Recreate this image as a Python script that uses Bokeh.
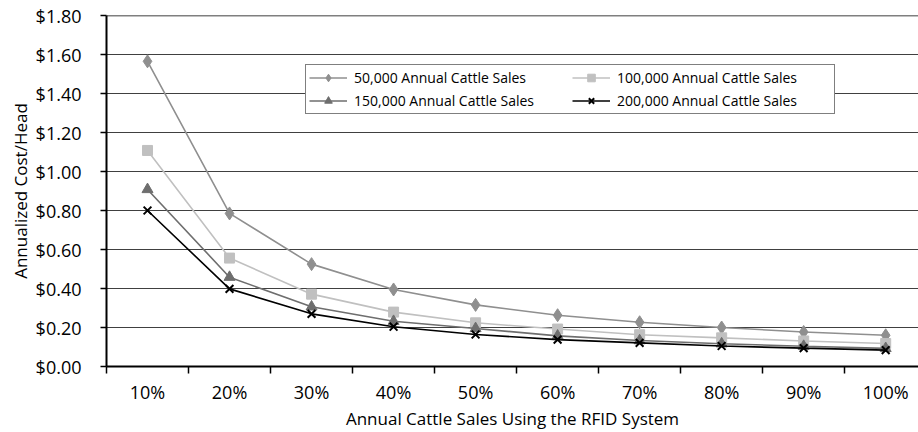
from bokeh.plotting import figure
from bokeh.models import Range1d, FixedTicker, Legend, LegendItem, Span
from bokeh.embed import file_html
from bokeh.resources import INLINE

categories = ["10%", "20%", "30%", "40%", "50%", "60%", "70%", "80%", "90%", "100%"]
sales_50k = [1.565, 0.785, 0.525, 0.395, 0.316, 0.263, 0.227, 0.200, 0.177, 0.160]
sales_100k = [1.108, 0.556, 0.371, 0.279, 0.224, 0.192, 0.163, 0.147, 0.131, 0.118]
sales_150k = [0.908, 0.458, 0.306, 0.232, 0.195, 0.157, 0.133, 0.117, 0.104, 0.093]
sales_200k = [0.800, 0.398, 0.270, 0.204, 0.164, 0.138, 0.121, 0.105, 0.094, 0.084]
y_ticks = [0.0, 0.2, 0.4, 0.6, 0.8, 1.0, 1.2, 1.4, 1.6, 1.8]
series_names = ["50,000 Annual Cattle Sales", "100,000 Annual Cattle Sales",
                "150,000 Annual Cattle Sales", "200,000 Annual Cattle Sales"]

FONT = "Open Sans"
xs = [i + 0.5 for i in range(len(categories))]

p = figure(width=918, height=432, output_backend="svg", toolbar_location=None,
           x_range=Range1d(0, 9.9), y_range=Range1d(0, 1.8),
           min_border_left=106, min_border_right=0, min_border_top=15, min_border_bottom=65)
p.outline_line_color = None
p.background_fill_color = "white"

p.xgrid.grid_line_color = None
p.ygrid.grid_line_color = "#404040"
p.ygrid.grid_line_width = 1

# x axis: labels at category centres, ticks at category boundaries
p.xaxis.ticker = FixedTicker(ticks=xs, minor_ticks=list(range(0, 11)))
p.xaxis.major_label_overrides = {x: c for x, c in zip(xs, categories)}
p.xaxis.major_tick_line_color = None
p.xaxis.major_tick_out = 7
p.xaxis.major_tick_in = 0
p.xaxis.minor_tick_line_color = "black"
p.xaxis.minor_tick_out = 7
p.xaxis.minor_tick_in = 0
p.xaxis.minor_tick_line_width = 1.5
p.xaxis.axis_line_width = 2
p.xaxis.axis_line_color = "black"
p.xaxis.major_label_standoff = 6
p.xaxis.axis_label = "Annual Cattle Sales Using the RFID System"
p.xaxis.axis_label_standoff = 0

p.yaxis.ticker = FixedTicker(ticks=y_ticks)
p.yaxis.major_label_overrides = {t: "${:.2f}".format(t) for t in y_ticks}
p.yaxis.major_tick_out = 6
p.yaxis.major_tick_in = 0
p.yaxis.major_tick_line_width = 1.5
p.yaxis.minor_tick_line_color = None
p.yaxis.axis_line_width = 2
p.yaxis.axis_line_color = "black"
p.yaxis.major_label_standoff = 19
p.yaxis.axis_label = "Annualized Cost/Head"
p.yaxis.axis_label_standoff = 1

for ax in (p.xaxis, p.yaxis):
    ax.major_label_text_font = FONT
    ax.major_label_text_font_size = "18px"
    ax.major_label_text_color = "black"
    ax.axis_label_text_font = FONT
    ax.axis_label_text_font_size = "17px"
    ax.axis_label_text_font_style = "normal"
    ax.axis_label_text_color = "black"

top = Span(location=1.8, dimension="width", line_color="black", line_width=1.5)
p.add_layout(top)

items = []
specs = [
    (sales_50k, "#8f8f8f", "diamond", 13),
    (sales_100k, "#c0c0c0", "square", 10),
    (sales_150k, "#6e6e6e", "triangle", 11),
    (sales_200k, "black", "x", 11),
]
for name, (vals, col, marker, size) in zip(series_names, specs):
    ln = p.line(xs, vals, line_color=col, line_width=1.6)
    sc = p.scatter(xs, vals, marker=marker, size=size, fill_color=col, line_color=col,
                   line_width=2 if marker == "x" else 1)
    items.append(LegendItem(label=name, renderers=[ln, sc]))

legend = Legend(items=items, orientation="horizontal", ncols=2,
                location=(199, 252))
legend.label_text_font = FONT
legend.label_text_font_size = "14px"
legend.label_text_color = "black"
legend.border_line_color = "black"
legend.border_line_width = 1
legend.background_fill_alpha = 1
legend.glyph_width = 38
legend.glyph_height = 19
legend.label_height = 19
legend.label_width = 214
legend.label_standoff = 7
legend.spacing = 4
legend.padding = 3
legend.margin = 0
p.add_layout(legend, "center")

open("out.html", "w").write(file_html(p, INLINE))
